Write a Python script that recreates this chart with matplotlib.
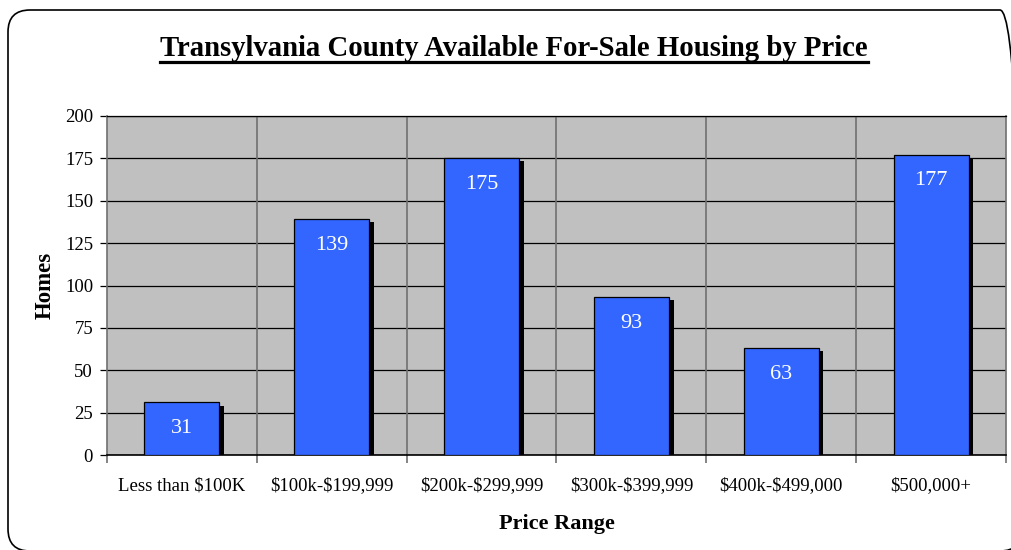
import matplotlib
matplotlib.use("Agg")
import matplotlib.pyplot as plt
import matplotlib.patheffects as pe
from matplotlib.patches import FancyBboxPatch
from matplotlib.lines import Line2D
from matplotlib.transforms import IdentityTransform
import numpy as np

plt.rcParams["text.parse_math"] = False

categories = ["Less than $100K", "$100k-$199,999", "$200k-$299,999",
              "$300k-$399,999", "$400k-$499,000", "$500,000+"]
homes = [31, 139, 175, 93, 63, 177]
y_ticks = [0, 25, 50, 75, 100, 125, 150, 175, 200]

title = "Transylvania County Available For-Sale Housing by Price"
serif = ["Liberation Serif", "DejaVu Serif"]

W, H = 1011, 550
fig = plt.figure(figsize=(W / 100, H / 100), dpi=100)
fig.patch.set_facecolor("white")

# rounded frame around the whole chart (pixel coordinates, origin bottom-left)
frame = FancyBboxPatch((8, -1), 1014, H - 10 + 1,
                       boxstyle="round,pad=0,rounding_size=22",
                       transform=IdentityTransform(), facecolor="none",
                       edgecolor="black", linewidth=1.2, zorder=-1)
fig.add_artist(frame)

ax = fig.add_axes([107 / W, 1 - 455 / H, 899 / W, 339 / H])
ax.set_zorder(1)
ax.set_facecolor("#C0C0C0")

x = np.arange(len(categories))
bars = ax.bar(x, homes, width=0.5, color="#3366FF", edgecolor="black",
              linewidth=0.9, zorder=3)
for b in bars:
    b.set_path_effects([pe.SimplePatchShadow(offset=(3.4, -2.2), shadow_rgbFace="black",
                                             alpha=1.0),
                        pe.Normal()])

for xi, v in zip(x, homes):
    ax.annotate(str(v), (xi, v), xytext=(0, -26), textcoords="offset pixels",
                ha="center", va="center", color="white", fontsize=16,
                family=serif, zorder=4)

ax.set_xlim(-0.5, len(categories) - 0.5)
ax.set_ylim(0, 200)
ax.set_yticks(y_ticks)
ax.set_yticklabels([str(t) for t in y_ticks], family=serif, fontsize=13.5)
ax.yaxis.grid(True, color="black", linewidth=0.9, zorder=1)
ax.set_axisbelow(True)

# category boundaries: gridlines and ticks
bounds = np.arange(len(categories) + 1) - 0.5
ax.set_xticks(bounds)
ax.set_xticklabels([])
ax.tick_params(axis="x", length=6, width=1.2, color="#707070", direction="out")
ax.tick_params(axis="y", length=5, width=0.9, color="black", direction="out", pad=5)
for bnd in bounds[1:-1]:
    ax.axvline(bnd, color="#707070", linewidth=1.2, zorder=1)

ax.set_xticks(x, minor=True)
ax.set_xticklabels(categories, minor=True, family=serif, fontsize=13.5)
ax.tick_params(axis="x", which="minor", length=0, pad=16)

ax.spines["top"].set_color("black")
ax.spines["top"].set_linewidth(0.9)
for side in ["left", "right"]:
    ax.spines[side].set_color("#707070")
    ax.spines[side].set_linewidth(1.2)
ax.spines["bottom"].set_color("black")
ax.spines["bottom"].set_linewidth(1.2)

ax.set_ylabel("Homes", family=serif, fontsize=16.5, fontweight="bold", labelpad=7)
ax.set_xlabel("Price Range", family=serif, fontsize=16, fontweight="bold", labelpad=14)

t = fig.text(514 / W, 1 - 49 / H, title, ha="center", va="center",
             family=serif, fontsize=20.7, fontweight="bold")

# underline beneath the title
fig.canvas.draw()
bb = t.get_window_extent(renderer=fig.canvas.get_renderer())
uy = (H - 62) / H
fig.add_artist(Line2D([bb.x0 / W, bb.x1 / W], [uy, uy],
                      transform=fig.transFigure, color="black", linewidth=2.3))

fig.savefig("out.png", dpi=100)
